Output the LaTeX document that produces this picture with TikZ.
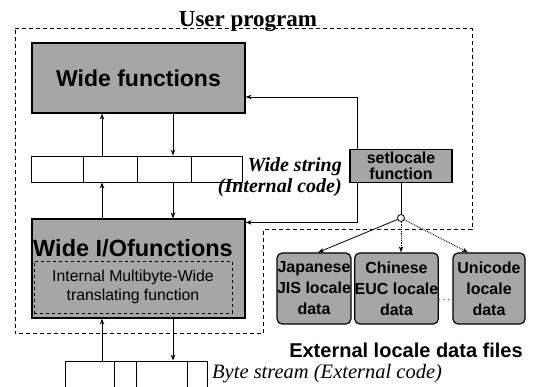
\documentclass[tikz,border=0pt]{standalone}
\usepackage{fontspec}
\setmainfont{Liberation Sans}
\newfontfamily\tmsfont{Liberation Serif}
\usetikzlibrary{arrows.meta,positioning}

\tikzset{
    shadebox/.style={draw, line width=1.2pt, fill=black!35, inner sep=0pt, align=center},
    localebox/.style={shadebox, rounded corners=5pt, minimum width=72pt, minimum height=71pt,
        font=\bfseries\fontsize{16}{21}\selectfont},
    cellrow/.style={draw, line width=0.9pt, fill=white, inner sep=0pt},
    arr/.style={-{Stealth[length=6pt,width=4.5pt]}, line width=0.8pt},
    dotarr/.style={arr, densely dotted, line width=1pt},
    region/.style={line width=1pt, dash pattern=on 4pt off 3pt}
}

\begin{document}
\begin{tikzpicture}[x=1pt, y=-1pt]
            \useasboundingbox (0,0) rectangle (533,387);
            \draw[region] (15,29) -- (472,29) -- (472,230) -- (263,230) -- (263,334) -- (15,334) -- cycle;
            \node (user) [anchor=base, font=\tmsfont\bfseries\fontsize{23}{26}\selectfont] at (248,27) {User program};

            \node (wf) [shadebox, minimum width=213pt, minimum height=70pt,
                font=\bfseries\fontsize{23}{26}\selectfont] at (138.5,78) {Wide functions};
            \node (ws) [cellrow, minimum width=211pt, minimum height=26pt] at (136.5,169) {};
            \foreach \x in {83,137,191} \draw[line width=0.9pt] (\x,156) -- (\x,182);
            \node (wslbl) [anchor=east, align=right, inner sep=0pt,
                font=\tmsfont\bfseries\itshape\fontsize{20}{21}\selectfont] at (342,177) {Wide string\\(Internal code)};

            \node (wio) [shadebox, minimum width=213pt, minimum height=99pt] at (138.5,268.5) {};
            \node (wiot) [inner sep=0pt, font=\bfseries\fontsize{23.5}{26}\selectfont] at (133,248) {Wide I/Ofunctions};
            \node (xlat) [draw, dashed, line width=0.8pt, minimum width=198pt, minimum height=52pt, align=center,
                font=\fontsize{15.8}{19}\selectfont] at (133,287) {Internal Multibyte-Wide\\translating function};

            \node (bs) [cellrow, minimum width=142pt, minimum height=38pt] at (136,380) {};
            \foreach \x in {114,136,187} \draw[line width=0.9pt] (\x,361) -- (\x,387);
            \node (bslbl) [anchor=west, inner sep=0pt, font=\tmsfont\itshape\fontsize{20.5}{22}\selectfont] at (212,374) {Byte stream (External code)};

            \node (sl) [shadebox, minimum width=102pt, minimum height=33pt,
                font=\bfseries\fontsize{16}{16}\selectfont] at (401,166) {setlocale\\function};
            \node (hub) [circle, draw, line width=0.8pt, fill=white, inner sep=0pt, minimum size=7pt] at (401,218) {};

            \node (jp) [localebox] at (314,288.5) {Japanese\\JIS locale\\data};
            \node (cn) [localebox] at (396.5,288.5) {Chinese\\EUC locale\\data};
            \node (un) [localebox] at (489,288.5) {Unicode\\locale\\data};
            \node (more) [font=\bfseries] at (444,300) {$\cdots$};
            \node (ext) [inner sep=1pt, font=\bfseries\fontsize{20}{22}\selectfont] at (406,350) {External locale data files};

            \coordinate (lc) at (102,0);
            \coordinate (rc) at (173,0);
            \draw[arr] (ws.north -| lc) -- (wf.south -| lc);
            \draw[arr] (wf.south -| rc) -- (ws.north -| rc);
            \draw[arr] (wio.north -| lc) -- (ws.south -| lc);
            \draw[arr] (ws.south -| rc) -- (wio.north -| rc);
            \draw[arr] (bs.north -| lc) -- (wio.south -| lc);
            \draw[arr] (wio.south -| rc) -- (bs.north -| rc);

            \draw[arr] ([xshift=-44pt]sl.north) |- ([yshift=-19pt]wf.east);
            \draw[arr] ([xshift=-44pt]sl.south) |- ([yshift=-4pt]wio.north east);
            \draw[line width=0.8pt] (sl.south) -- (hub);
            \draw[arr] (hub) -- ([xshift=4pt]jp.north);
            \draw[dotarr] (hub) -- (hub |- cn.north);
            \draw[dotarr] (hub) -- ([xshift=-21pt]un.north);
\end{tikzpicture}
\end{document}
